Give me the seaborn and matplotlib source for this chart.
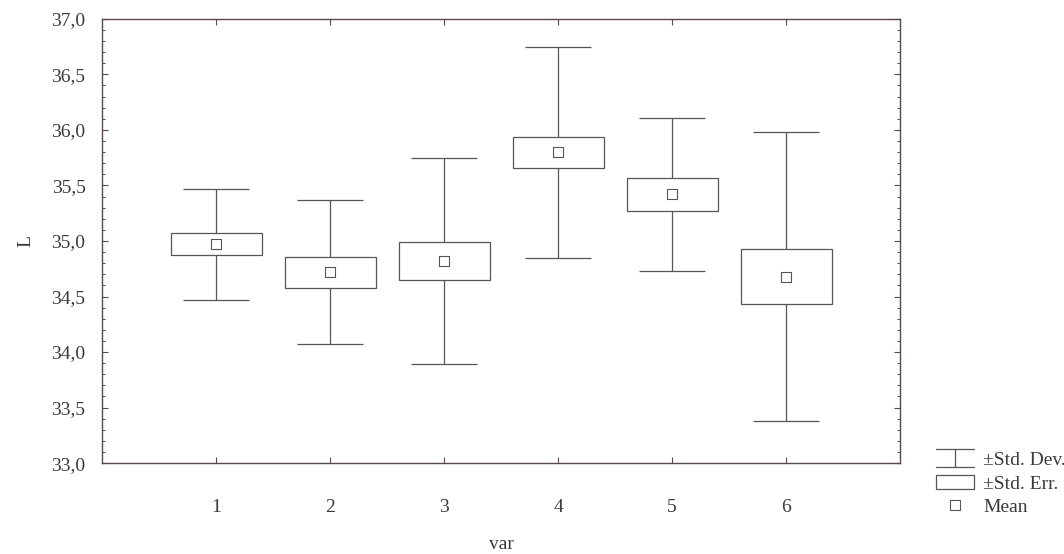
import numpy as np
import pandas as pd
import matplotlib
matplotlib.use("Agg")
import matplotlib.pyplot as plt
import seaborn as sns
from matplotlib.lines import Line2D
from matplotlib.patches import Rectangle
from matplotlib.ticker import MultipleLocator, FixedLocator
from matplotlib.legend_handler import HandlerBase

categories = ["1", "2", "3", "4", "5", "6"]
means = [34.97, 34.72, 34.82, 35.80, 35.42, 34.68]
std_err = [0.10, 0.14, 0.17, 0.14, 0.15, 0.245]
std_dev = [0.50, 0.65, 0.93, 0.95, 0.69, 1.30]
y_ticks = [33.0, 33.5, 34.0, 34.5, 35.0, 35.5, 36.0, 36.5, 37.0]

df = pd.DataFrame({"var": categories, "L": means, "se": std_err, "sd": std_dev})
df["pos"] = np.arange(1, len(categories) + 1)

sns.set_theme(style="white")
plt.rcParams["font.family"] = ["Liberation Serif", "DejaVu Serif"]

line_c = "#555555"
text_c = "#3a3a3a"
spine_c = "#5a4656"

fig = plt.figure(figsize=(10.64, 5.54), dpi=100)
ax = fig.add_axes([0.096, 0.164, 0.750, 0.802])

# SD whiskers
ax.errorbar(df["pos"], df["L"], yerr=df["sd"], fmt="none", ecolor=line_c,
            elinewidth=0.9, capsize=24, capthick=0.9, zorder=1)
# SE boxes
ax.bar(df["pos"], 2 * df["se"], bottom=df["L"] - df["se"], width=0.8,
       facecolor="white", edgecolor=line_c, linewidth=0.9, zorder=2)
# Means
sns.scatterplot(data=df, x="pos", y="L", marker="s", s=60, facecolor="white",
                edgecolor=line_c, linewidth=0.8, ax=ax, zorder=3, legend=False)

ax.set_xlim(0, 7)
ax.set_ylim(33.0, 37.0)
ax.xaxis.set_major_locator(FixedLocator(df["pos"].tolist()))
ax.set_xticklabels(categories)
ax.yaxis.set_major_locator(FixedLocator(y_ticks))
ax.set_yticklabels([f"{t:.1f}".replace(".", ",") for t in y_ticks])
ax.yaxis.set_minor_locator(MultipleLocator(0.1))
ax.tick_params(axis="both", which="both", direction="in", colors=spine_c,
               labelcolor=text_c, labelsize=14, top=True, right=True, left=True, bottom=True)
ax.tick_params(axis="y", which="major", length=4, width=0.8, pad=12)
ax.tick_params(axis="y", which="minor", length=2.5, width=0.7)
ax.tick_params(axis="x", which="major", length=4, width=0.8, pad=26)
for s in ax.spines.values():
    s.set_color(spine_c)
    s.set_linewidth(1.0)
    s.set_visible(True)
ax.set_xlabel("var", fontsize=14, color=text_c, labelpad=14)
ax.set_ylabel("L", fontsize=14, color=text_c, labelpad=12)
ax.grid(False)


class IBeamHandler(HandlerBase):
    def create_artists(self, legend, orig_handle, xdescent, ydescent, width, height, fontsize, trans):
        x0, x1 = -xdescent, -xdescent + width
        xm = (x0 + x1) / 2
        y0, y1 = -ydescent - 0.15 * height, -ydescent + 1.15 * height
        return [
            Line2D([x0, x1], [y1, y1], color=line_c, lw=0.9, transform=trans),
            Line2D([x0, x1], [y0, y0], color=line_c, lw=0.9, transform=trans),
            Line2D([xm, xm], [y0, y1], color=line_c, lw=0.9, transform=trans),
        ]


handles = [
    Line2D([0], [0], color=line_c, lw=0.9),
    Rectangle((0, 0), 1, 1, facecolor="white", edgecolor=line_c, linewidth=0.9),
    Line2D([0], [0], marker="s", markersize=7, markerfacecolor="white",
           markeredgecolor=line_c, markeredgewidth=0.8, linestyle="none"),
]
leg = fig.legend(handles, ["\u00b1Std. Dev.", "\u00b1Std. Err.", "Mean"],
                 loc="upper left", bbox_to_anchor=(0.872, 0.199), frameon=False,
                 fontsize=14, handlelength=2.0, handletextpad=0.45, labelspacing=0.3,
                 borderaxespad=0, handler_map={handles[0]: IBeamHandler()})
for t in leg.get_texts():
    t.set_color(text_c)

fig.savefig("out.png", dpi=100, facecolor="white")
